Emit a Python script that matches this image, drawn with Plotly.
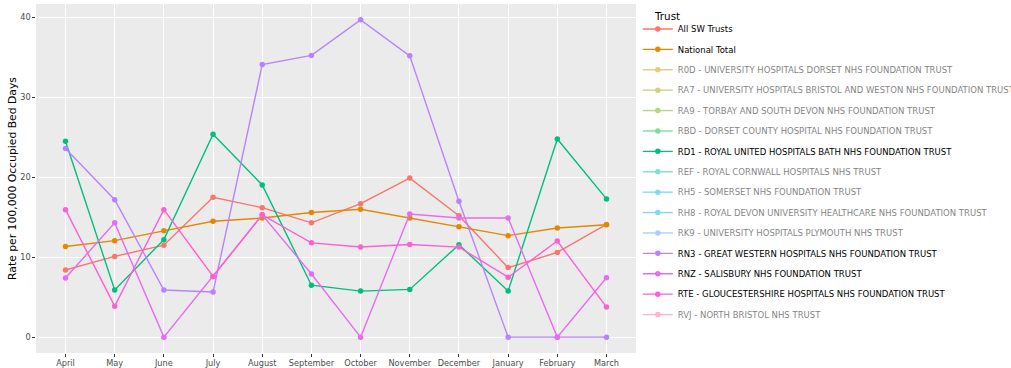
import plotly.graph_objects as go

months = ["April", "May", "June", "July", "August", "September",
          "October", "November", "December", "January", "February", "March"]

all_sw = [8.4, 10.1, 11.5, 17.5, 16.2, 14.3, 16.7, 19.9, 15.2, 8.7, 10.6, 14.1]
national = [11.35, 12.07, 13.3, 14.5, 14.9, 15.6, 16.0, 14.9, 13.8, 12.7, 13.65, 14.07]
rd1 = [24.5, 5.9, 12.2, 25.4, 19.05, 6.5, 5.76, 5.97, 11.57, 5.76, 24.8, 17.3]
rn3 = [23.6, 17.2, 5.9, 5.64, 34.1, 35.25, 39.7, 35.2, 17.0, 0.0, 0.0, 0.0]
rnz = [7.4, 14.3, 0.0, 7.6, 15.3, 7.9, 0.0, 15.4, 14.9, 14.9, 0.0, 7.43]
rte = [15.95, 3.88, 15.95, 7.6, 15.3, 11.8, 11.27, 11.6, 11.27, 7.5, 12.03, 3.76]
no_values = [None] * 12

trusts = [
    ("All SW Trusts", all_sw, "#F8766D", True),
    ("National Total", national, "#E58700", True),
    ("R0D - UNIVERSITY HOSPITALS DORSET NHS FOUNDATION TRUST", no_values, "#C99800", False),
    ("RA7 - UNIVERSITY HOSPITALS BRISTOL AND WESTON NHS FOUNDATION TRUST", no_values, "#A3A500", False),
    ("RA9 - TORBAY AND SOUTH DEVON NHS FOUNDATION TRUST", no_values, "#6BB100", False),
    ("RBD - DORSET COUNTY HOSPITAL NHS FOUNDATION TRUST", no_values, "#00BA38", False),
    ("RD1 - ROYAL UNITED HOSPITALS BATH NHS FOUNDATION TRUST", rd1, "#00BF7D", True),
    ("REF - ROYAL CORNWALL HOSPITALS NHS TRUST", no_values, "#00C0AF", False),
    ("RH5 - SOMERSET NHS FOUNDATION TRUST", no_values, "#00BCD8", False),
    ("RH8 - ROYAL DEVON UNIVERSITY HEALTHCARE NHS FOUNDATION TRUST", no_values, "#00B0F6", False),
    ("RK9 - UNIVERSITY HOSPITALS PLYMOUTH NHS TRUST", no_values, "#619CFF", False),
    ("RN3 - GREAT WESTERN HOSPITALS NHS FOUNDATION TRUST", rn3, "#B983FF", True),
    ("RNZ - SALISBURY NHS FOUNDATION TRUST", rnz, "#E76BF3", True),
    ("RTE - GLOUCESTERSHIRE HOSPITALS NHS FOUNDATION TRUST", rte, "#FD61D1", True),
    ("RVJ - NORTH BRISTOL NHS TRUST", no_values, "#FF67A4", False),
]

FONT = "DejaVu Sans"

fig = go.Figure()
for name, values, colour, shown in trusts:
    fig.add_trace(go.Scatter(
        x=months, y=values, name=name, legendgroup=name,
        mode="lines+markers",
        line=dict(color=colour, width=1.4),
        marker=dict(color=colour, size=5.5),
        visible=True if shown else "legendonly",
    ))

fig.update_layout(
    width=1011, height=368,
    margin=dict(l=36, r=375, t=4, b=15, autoexpand=False),
    paper_bgcolor="white",
    plot_bgcolor="rgb(235,235,235)",
    font=dict(family=FONT, size=8.2, color="rgb(77,77,77)"),
    showlegend=True,
    legend=dict(
        x=1.003, xanchor="left", y=0.970, yanchor="top",
        font=dict(family=FONT, size=8.5, color="black"),
        bgcolor="rgba(0,0,0,0)",
        tracegroupgap=1.4,
        traceorder="grouped",
    ),
    annotations=[dict(
        text="Trust", xref="paper", yref="paper",
        x=1.026, y=0.9665, xanchor="left", yanchor="middle",
        showarrow=False, font=dict(family=FONT, size=10.4, color="black"),
    )],
    xaxis=dict(
        type="category", categoryorder="array", categoryarray=months,
        range=[-0.6, 11.6],
        showgrid=True, gridcolor="white", gridwidth=0.7,
        ticks="outside", ticklen=2.6, tickcolor="rgb(51,51,51)", tickwidth=0.7,
        tickfont=dict(family=FONT, size=8.2, color="rgb(77,77,77)"),
        zeroline=False, showline=False,
    ),
    yaxis=dict(
        range=[-1.985, 41.685],
        tickvals=[0, 10, 20, 30, 40],
        showgrid=True, gridcolor="white", gridwidth=0.7,
        ticks="outside", ticklen=2.6, tickcolor="rgb(51,51,51)", tickwidth=0.7,
        tickfont=dict(family=FONT, size=8.2, color="rgb(77,77,77)"),
        zeroline=False, showline=False,
        title=dict(text="Rate per 100,000 Occupied Bed Days",
                   font=dict(family=FONT, size=10.8, color="black"), standoff=1),
    ),
)

fig.write_html("out.html")
